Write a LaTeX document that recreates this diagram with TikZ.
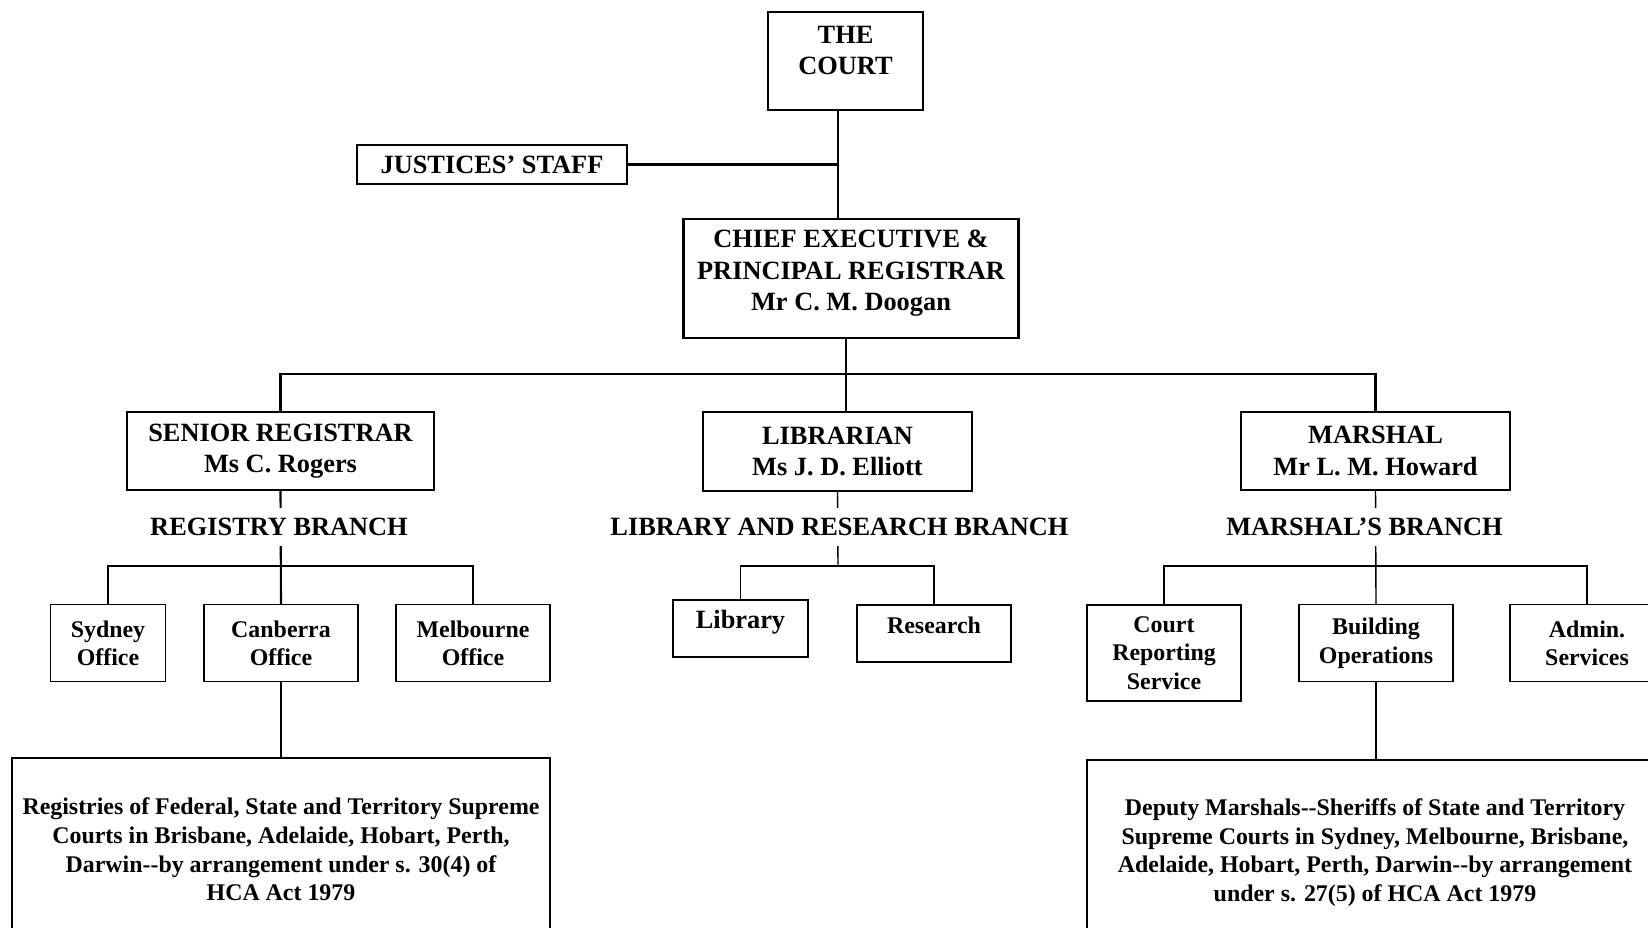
\documentclass[tikz,border=0pt]{standalone}
\usepackage{fontspec}
\setmainfont{Liberation Serif}
\newcommand{\chartbig}{\fontsize{15}{18}\selectfont\bfseries}
\newcommand{\chartsmall}{\fontsize{13.6}{16.3}\selectfont\bfseries}
\tikzset{
    mainbox/.style={draw, line width=1.3pt, align=center, font=\chartbig, inner sep=0pt},
    subbox/.style={draw, line width=0.8pt, align=center, font=\chartsmall, inner sep=0pt},
    toplab/.style={anchor=north, align=center, inner sep=0pt, font=\chartbig},
    branch/.style={fill=white, font=\chartbig, inner xsep=2pt, inner ysep=0.2cm},
    mainline/.style={line width=1.2pt},
    subline/.style={line width=0.8pt}
}
\begin{document}
\begin{tikzpicture}[x=0.02cm, y=-0.02cm]
\useasboundingbox (0,0) rectangle (1648,927);
\clip (0,0) rectangle (1648,927);
\begin{scope}[every node/.style={mainbox}]
    % top of the chart
    \node[minimum width=3.1cm, minimum height=1.96cm,
          label={[toplab, label distance=-0.28cm]90:THE\\COURT}] (court) at (845.5,61) {};
    \node[minimum width=5.4cm, minimum height=0.78cm] (jstaff) at (492,164.5) {JUSTICES’ STAFF};
    \node[minimum width=6.7cm, minimum height=2.38cm,
          label={[toplab, label distance=-0.22cm]90:CHIEF EXECUTIVE \&\\PRINCIPAL REGISTRAR\\Mr C. M. Doogan}] (chief) at (851,278.5) {};

    % the three branch heads
    \node[minimum width=6.14cm, minimum height=1.56cm] (senreg) at (280.5,451) {SENIOR REGISTRAR\\Ms C. Rogers};
    \node[minimum width=5.38cm, minimum height=1.58cm] (libr) at (837.5,451.5) {LIBRARIAN\\Ms J. D. Elliott};
    \node[minimum width=5.38cm, minimum height=1.56cm] (marshal) at (1375.5,451) {MARSHAL\\Mr L. M. Howard};
\end{scope}
\begin{scope}[every node/.style={subbox}]
    \def\offh{1.54cm}
    \node[minimum width=2.3cm, minimum height=\offh] (sydney) at (108,643.2) {Sydney\\Office};
    \node[minimum width=3.08cm, minimum height=\offh] (canb) at (281,643.2) {Canberra\\Office};
    \node[minimum width=3.08cm, minimum height=\offh] (melb) at (473,643.2) {Melbourne\\Office};

    \node[minimum width=2.7cm, minimum height=1.14cm,
          label={[toplab, label distance=-0.2cm]90:Library}] (library) at (740.5,628.5) {};
    \node[minimum width=3.08cm, minimum height=1.14cm,
          label={[toplab, font=\chartsmall, label distance=-0.24cm]90:Research}] (research) at (934,633.5) {};

    \node[minimum width=3.08cm, minimum height=1.92cm] (courtrep) at (1164,652.9) {Court\\Reporting\\Service};
    \node[minimum width=3.08cm, minimum height=\offh] (building) at (1376,643.2) {Building\\Operations};
    \node[minimum width=3.08cm, minimum height=\offh] (admin) at (1587,643.2) {Admin.\\Services};

    % the two boxes run off the page
    \node[minimum width=10.76cm, minimum height=3.66cm] (regs) at (281,849.5)
        {Registries of Federal, State and Territory Supreme\\Courts in Brisbane, Adelaide, Hobart, Perth,\\Darwin-{}-by arrangement under s. 30(4) of\\HCA Act 1979};
    \node[minimum width=11.52cm, minimum height=3.7cm] (deps) at (1375,852.5)
        {Deputy Marshals-{}-Sheriffs of State and Territory\\Supreme Courts in Sydney, Melbourne, Brisbane,\\Adelaide, Hobart, Perth, Darwin-{}-by arrangement\\under s. 27(5) of HCA Act 1979};
\end{scope}
\begin{scope}
    \coordinate (mainbar) at (846,374);
    \coordinate (regbar) at (281,566);
    \coordinate (librbar) at (838,566);
    \coordinate (marbar) at (1375,566);

    \draw[mainline] ([xshift=-0.15cm]court.south) -- ([xshift=-0.15cm]court.south |- chief.north);
    \draw[mainline] (jstaff.east) -- ([xshift=-0.15cm]jstaff.east -| court.south);
    \draw[mainline] ([xshift=-0.1cm]chief.south) -- ([xshift=-0.1cm]chief.south |- libr.north);
    \draw[mainline] (senreg.north) |- (mainbar) -| (marshal.north);
    \foreach \from/\to in {senreg/canb, canb/regs}
        \draw[mainline] (\from.south) -- (\to.north);

    \draw[subline] (libr.south) -- (librbar);
    \draw[subline] (marshal.south) -- (building.north);
    \draw[subline] (building.south) -- (building.south |- deps.north);
    \draw[subline] (sydney.north) |- (regbar) -| (melb.north);
    \draw[subline] (library.north) |- (librbar) -| (research.north);
    \draw[subline] (courtrep.north) |- (marbar) -| (admin.north);
\end{scope}
% branch names sit over the lines
\node[branch] (regbr) at (279,527) {REGISTRY BRANCH};
\node[branch] (librbr) at (839.5,527) {LIBRARY AND RESEARCH BRANCH};
\node[branch] (marbr) at (1364.5,527) {MARSHAL’S BRANCH};
\end{tikzpicture}
\end{document}
